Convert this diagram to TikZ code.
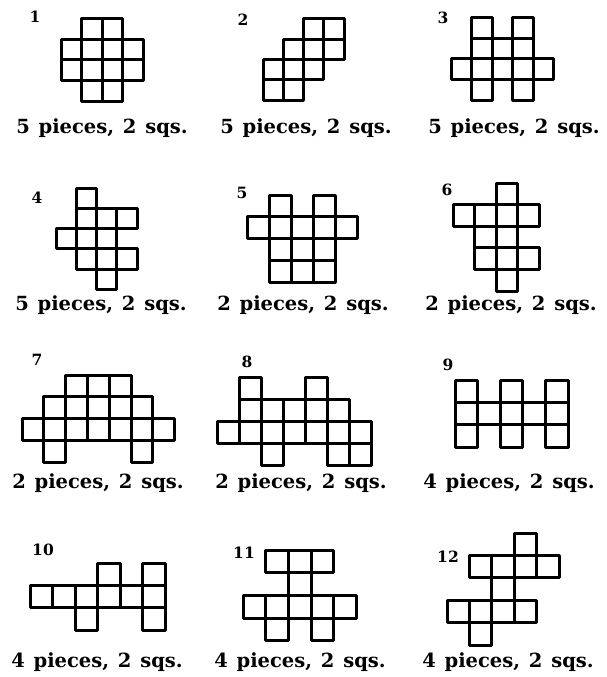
\documentclass[tikz,border=0pt]{standalone}
\usepackage{fontspec}
\newfontfamily\serifB[WordSpace=1.3]{DejaVu Serif}
\newcommand{\didfont}{\serifB\bfseries\fontsize{19.5}{22}\selectfont}
\newcommand{\numfont}{\serifB\bfseries\fontsize{15.5}{18}\selectfont}

\begin{document}
\begin{tikzpicture}[x=1pt, y=-1pt,
  cella/.style={line width=3pt, line join=round},
  didascalia/.style={font=\didfont, anchor=base},
  numero/.style={font=\numfont}]
  \useasboundingbox (0,0) rectangle (606,677);

  %–– Figure (celle) ––
  % 1
  \begin{scope}[shift={(61,19)}, x=20.5pt, y=-20.5pt]
    \foreach \c/\r in {1/0,2/0,0/1,1/1,2/1,3/1,0/2,1/2,2/2,3/2,1/3,2/3}
      \draw[cella] (\c,\r) rectangle ++(1,1);
  \end{scope}
  % 2
  \begin{scope}[shift={(263,19)}, x=20.3pt, y=-20.3pt]
    \foreach \c/\r in {2/0,3/0,1/1,2/1,3/1,0/2,1/2,2/2,0/3,1/3}
      \draw[cella] (\c,\r) rectangle ++(1,1);
  \end{scope}
  % 3
  \begin{scope}[shift={(451,18)}, x=20.5pt, y=-20.5pt]
    \foreach \c/\r in {1/0,3/0,1/1,2/1,3/1,0/2,1/2,2/2,3/2,4/2,1/3,3/3}
      \draw[cella] (\c,\r) rectangle ++(1,1);
  \end{scope}
  % 4
  \begin{scope}[shift={(56,188)}, x=20.3pt, y=-20.3pt]
    \foreach \c/\r in {1/0,1/1,2/1,3/1,0/2,1/2,2/2,1/3,2/3,3/3,2/4}
      \draw[cella] (\c,\r) rectangle ++(1,1);
  \end{scope}
  % 5
  \begin{scope}[shift={(247,195)}, x=22pt, y=-21.8pt]
    \foreach \c/\r in {1/0,3/0,0/1,1/1,2/1,3/1,4/1,1/2,2/2,3/2,1/3,2/3,3/3}
      \draw[cella] (\c,\r) rectangle ++(1,1);
  \end{scope}
  % 6
  \begin{scope}[shift={(453,183)}, x=21.6pt, y=-21.6pt]
    \foreach \c/\r in {2/0,0/1,1/1,2/1,3/1,1/2,2/2,1/3,2/3,3/3,2/4}
      \draw[cella] (\c,\r) rectangle ++(1,1);
  \end{scope}
  % 7
  \begin{scope}[shift={(22,375)}, x=21.8pt, y=-21.8pt]
    \foreach \c/\r in {2/0,3/0,4/0,1/1,2/1,3/1,4/1,5/1,
                       0/2,1/2,2/2,3/2,4/2,5/2,6/2,1/3,5/3}
      \draw[cella] (\c,\r) rectangle ++(1,1);
  \end{scope}
  % 8
  \begin{scope}[shift={(217,377)}, x=22.1pt, y=-22.1pt]
    \foreach \c/\r in {1/0,4/0,1/1,2/1,3/1,4/1,5/1,
                       0/2,1/2,2/2,3/2,4/2,5/2,6/2,2/3,5/3,6/3}
      \draw[cella] (\c,\r) rectangle ++(1,1);
  \end{scope}
  % 9
  \begin{scope}[shift={(455,380)}, x=22.6pt, y=-22.4pt]
    \foreach \c/\r in {0/0,2/0,4/0,0/1,1/1,2/1,3/1,4/1,0/2,2/2,4/2}
      \draw[cella] (\c,\r) rectangle ++(1,1);
  \end{scope}
  % 10
  \begin{scope}[shift={(30,563)}, x=22.5pt, y=-22.4pt]
    \foreach \c/\r in {3/0,5/0,0/1,1/1,2/1,3/1,4/1,5/1,2/2,5/2}
      \draw[cella] (\c,\r) rectangle ++(1,1);
  \end{scope}
  % 11
  \begin{scope}[shift={(243,550)}, x=22.7pt, y=-22.7pt]
    \foreach \c/\r in {1/0,2/0,3/0,2/1,0/2,1/2,2/2,3/2,4/2,1/3,3/3}
      \draw[cella] (\c,\r) rectangle ++(1,1);
  \end{scope}
  % 12
  \begin{scope}[shift={(447,533)}, x=22.4pt, y=-22.4pt]
    \foreach \c/\r in {3/0,1/1,2/1,3/1,4/1,2/2,0/3,1/3,2/3,3/3,1/4}
      \draw[cella] (\c,\r) rectangle ++(1,1);
  \end{scope}

  %–– Numeri ––
  \node[numero] (num1) at (35,17) {1};
  \node[numero] (num2) at (243,20) {2};
  \node[numero] (num3) at (443,18) {3};
  \node[numero] (num4) at (37,198) {4};
  \node[numero] (num5) at (242,193) {5};
  \node[numero] (num6) at (447,190) {6};
  \node[numero] (num7) at (37,360) {7};
  \node[numero] (num8) at (247,362) {8};
  \node[numero] (num9) at (448,365) {9};
  \node[numero] (num10) at (43,550) {10};
  \node[numero] (num11) at (244,553) {11};
  \node[numero] (num12) at (448,557) {12};

  %–– Didascalie ––
  \node[didascalia] (did1) at (102,133) {5 pieces, 2 sqs.};
  \node[didascalia] (did2) at (306,133) {5 pieces, 2 sqs.};
  \node[didascalia] (did3) at (514,133) {5 pieces, 2 sqs.};
  \node[didascalia] (did4) at (101,310) {5 pieces, 2 sqs.};
  \node[didascalia] (did5) at (303,310) {2 pieces, 2 sqs.};
  \node[didascalia] (did6) at (511,310) {2 pieces, 2 sqs.};
  \node[didascalia] (did7) at (98,488) {2 pieces, 2 sqs.};
  \node[didascalia] (did8) at (301,488) {2 pieces, 2 sqs.};
  \node[didascalia] (did9) at (509,488) {4 pieces, 2 sqs.};
  \node[didascalia] (did10) at (97,667) {4 pieces, 2 sqs.};
  \node[didascalia] (did11) at (300,667) {4 pieces, 2 sqs.};
  \node[didascalia] (did12) at (508,667) {4 pieces, 2 sqs.};
\end{tikzpicture}
\end{document}
